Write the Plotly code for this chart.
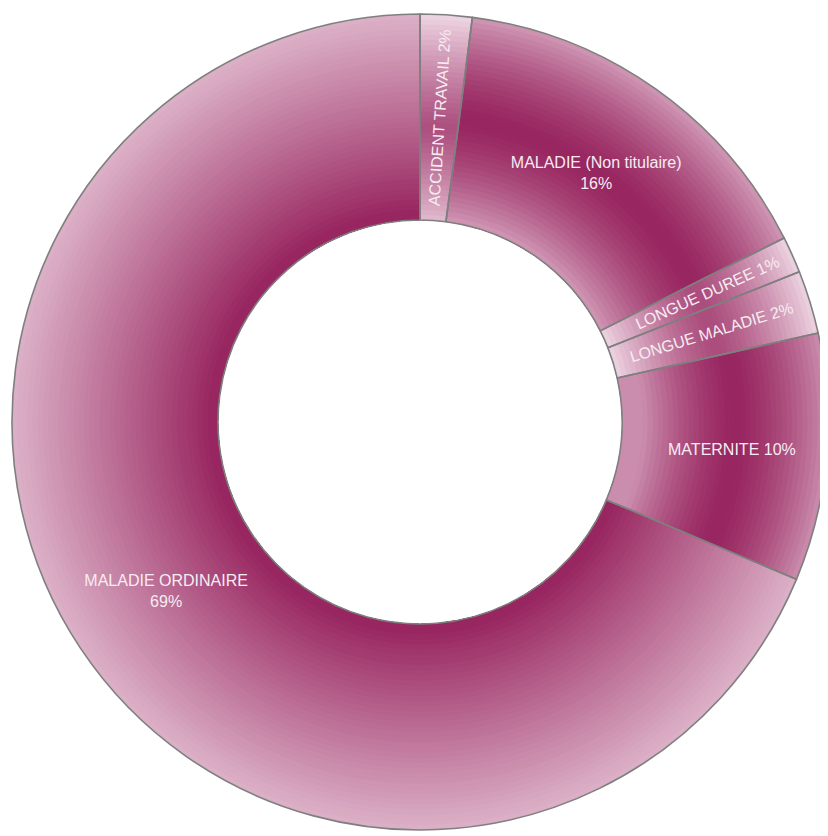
import plotly.graph_objects as go

# ---- data ----
categories = ["ACCIDENT TRAVAIL", "MALADIE (Non titulaire)", "LONGUE DUREE",
              "LONGUE MALADIE", "MATERNITE", "MALADIE ORDINAIRE"]
values = [2.05, 15.5, 1.45, 2.5, 9.8, 68.7]
labels_text = ["ACCIDENT TRAVAIL 2%", "MALADIE (Non titulaire)<br>16%", "LONGUE DUREE 1%",
               "LONGUE MALADIE 2%", "MATERNITE 10%", "MALADIE ORDINAIRE<br>69%"]

# ---- geometry / style ----
W, H = 828, 836
CX, CY = 412, 414          # centre in plot pixels (page adds an 8px body margin)
R_OUT, R_IN = 408, 202
N_RINGS = 40

DARK = (152, 38, 96)
LIGHT = (244, 226, 236)


def mix(d):
    d = max(0.0, min(1.0, d))
    c = [round(LIGHT[i] + d * (DARK[i] - LIGHT[i])) for i in range(3)]
    return "rgb(%d,%d,%d)" % tuple(c)


def bump(t, centre, half, peak, drop, p=1.5):
    x = min(1.0, abs(t - centre) / half)
    return peak - drop * x ** p


def darkness(i, t):
    if i == 5:   # maladie ordinaire: dark inside, light toward outer edge
        return 1.0 - 0.74 * max(0.0, (t - 0.04) / 0.96) ** 0.95
    if i == 1:
        return bump(t, 0.5, 0.5, 1.0, 0.6)
    if i == 4:
        return bump(t, 0.55, 0.45, 1.0, 0.55)
    if i == 0:
        return bump(t, 0.45, 0.55, 0.78, 0.72, 1.2)
    return bump(t, 0.5, 0.5, 0.8, 0.72, 1.3)


def domain_for(r):
    x0 = (CX - r) / W
    x1 = (CX + r) / W
    yb = H - CY
    y0 = (yb - r) / H
    y1 = (yb + r) / H
    return dict(x=[x0, x1], y=[y0, y1])


fig = go.Figure()

# gradient rings (drawn as discs from hole outward, largest first)
for k in range(N_RINGS, 0, -1):
    r = R_IN + (R_OUT - R_IN) * k / N_RINGS
    t = (k - 0.5) / N_RINGS
    cols = [mix(darkness(i, t)) for i in range(len(values))]
    fig.add_trace(go.Pie(
        labels=categories, values=values, sort=False, direction="clockwise",
        hole=R_IN / r, domain=domain_for(r),
        marker=dict(colors=cols, line=dict(width=0)),
        textinfo="none", hoverinfo="skip", showlegend=False,
    ))

# outline + labels
fig.add_trace(go.Pie(
    labels=categories, values=values, sort=False, direction="clockwise",
    hole=R_IN / R_OUT, domain=domain_for(R_OUT),
    marker=dict(colors=["rgba(0,0,0,0)"] * len(values),
                line=dict(color="#7f7f7f", width=1.6)),
    text=labels_text, textinfo="text", textposition="inside",
    insidetextorientation="auto",
    textfont=dict(family="Liberation Sans, Arial, sans-serif", size=16, color="#f7ecf2"),
    hoverinfo="label+percent", showlegend=False,
))

fig.update_layout(
    width=W, height=H,
    margin=dict(l=0, r=0, t=0, b=0),
    paper_bgcolor="white", plot_bgcolor="white",
    showlegend=False,
)

fig.write_html("out.html")
